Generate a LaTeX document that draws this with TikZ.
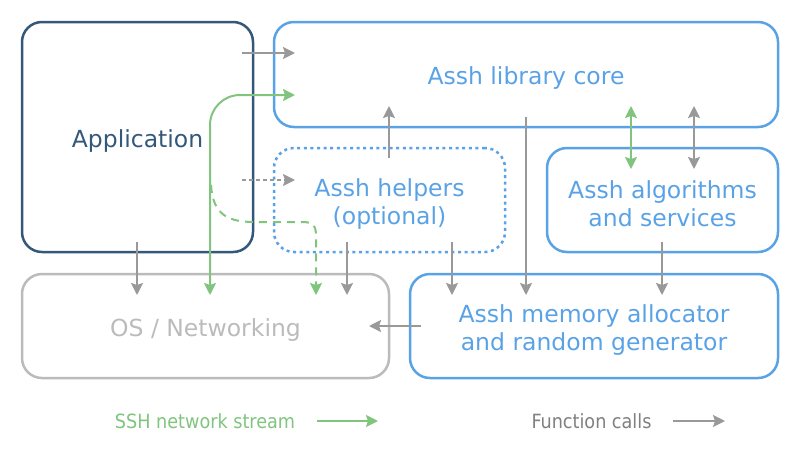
\documentclass[tikz,border=0pt]{standalone}
\usepackage{fontspec}
\setmainfont{DejaVu Sans}
\newfontfamily\condfont{DejaVu Sans Condensed}
\usetikzlibrary{arrows.meta}
\definecolor{appblue}{HTML}{34587A}
\definecolor{asshblue}{HTML}{5AA2E6}
\definecolor{osgray}{HTML}{BBBBBB}
\definecolor{callgray}{HTML}{999999}
\definecolor{legendgray}{HTML}{808080}
\definecolor{netgreen}{HTML}{80C47E}
\newcommand{\boxstrut}{\rule{0pt}{25.5pt}}

\begin{document}
\begin{tikzpicture}[x=1pt,y=-1pt]

\tikzset{box/.style = {shape=rectangle, draw, rounded corners=20pt, line width=2.5pt, inner sep=0pt, align=center, font=\fontsize{23.5}{28}\selectfont}}
\tikzset{call/.style = {draw=callgray, line width=2pt, -{Stealth[length=12pt, width=12pt, inset=2pt]}}}
\tikzset{net/.style = {draw=netgreen, line width=2pt, -{Stealth[length=12pt, width=12pt, inset=2pt]}}}
\tikzset{legend/.style = {font=\condfont\fontsize{19.6}{22}\selectfont}}
\useasboundingbox (0,0) rectangle (800,464);
%boxes
\node[box, draw=appblue, text=appblue, minimum width=231pt, minimum height=230pt] (app) at (137.5,137) {\boxstrut Application};
\node[box, draw=asshblue, text=asshblue, minimum width=504pt, minimum height=105pt] (core) at (526,74.5) {\boxstrut Assh library core};
\node[box, draw=asshblue, text=asshblue, dash pattern=on 3pt off 3.6pt, minimum width=231pt, minimum height=104pt] (helpers) at (389.5,200) {\boxstrut Assh helpers\\(optional)};
\node[box, draw=asshblue, text=asshblue, minimum width=231pt, minimum height=104pt] (algo) at (662.5,200) {\boxstrut Assh algorithms\\and services};
\node[box, draw=osgray, text=osgray, minimum width=367pt, minimum height=104pt] (os) at (205.5,326) {\boxstrut OS / Networking};
\node[box, draw=asshblue, text=asshblue, minimum width=368pt, minimum height=104pt] (mem) at (594,326) {\boxstrut Assh memory allocator\\and random generator};
%arrow ends
\coordinate (appcall) at (242,53);
\coordinate (corein) at (295,53);
\coordinate (apphelp) at (242,180);
\coordinate (helpin) at (295,180);
\coordinate (helpup) at (389,158);
\coordinate (coredown) at (389,106);
\coordinate (corecall) at (526,117);
\coordinate (memin) at (526,295);
\coordinate (netalgo) at (631,169);
\coordinate (netcore) at (631,106);
\coordinate (callalgo) at (694,169);
\coordinate (callcore) at (694,106);
\coordinate (appos) at (137,242);
\coordinate (osin) at (137,295);
\coordinate (helpos) at (347,242);
\coordinate (oshelp) at (347,295);
\coordinate (helpmem) at (452,242);
\coordinate (memhelp) at (452,295);
\coordinate (algomem) at (662,242);
\coordinate (memalgo) at (662,295);
\coordinate (memos) at (421,326);
\coordinate (osmem) at (369,326);
\coordinate (netos) at (210,295);
\coordinate (netbend) at (210,95);
\coordinate (netin) at (295,95);
\coordinate (netfork) at (211,185);
\coordinate (netdrop) at (316,295);
%calls
\draw[call] (appcall) -- (corein);
\draw[call, dash pattern=on 4pt off 3pt] (apphelp) -- (helpin);
\draw[call] (helpup) -- (coredown);
\draw[call] (corecall) -- (memin);
\draw[call, {Stealth[length=12pt, width=12pt, inset=2pt]}-{Stealth[length=12pt, width=12pt, inset=2pt]}] (callalgo) -- (callcore);
\draw[call] (appos) -- (osin);
\draw[call] (helpos) -- (oshelp);
\draw[call] (helpmem) -- (memhelp);
\draw[call] (algomem) -- (memalgo);
\draw[call] (memos) -- (osmem);
%network stream
\draw[net, {Stealth[length=12pt, width=12pt, inset=2pt]}-{Stealth[length=12pt, width=12pt, inset=2pt]}] (netalgo) -- (netcore);
\draw[net, {Stealth[length=12pt, width=12pt, inset=2pt]}-{Stealth[length=12pt, width=12pt, inset=2pt]}, rounded corners=30pt] (netos) -- (netbend) -- (netin);
\draw[net, dash pattern=on 8pt off 6pt] (netfork) .. controls (213,215) and (228,222) .. (255,222) -- (303,222) .. controls (316,222) and (316,229) .. (316,239) -- (netdrop);
%legend
\node[legend, text=netgreen] (netkey) at (205,421) {SSH network stream};
\node[legend, text=legendgray] (callkey) at (591.5,421) {Function calls};
\coordinate (netkeyend) at (378,421);
\coordinate (callkeyend) at (725,421);
\draw[net] ([xshift=18pt]netkey.east) -- (netkeyend);
\draw[call] ([xshift=18pt]callkey.east) -- (callkeyend);

\end{tikzpicture}
\end{document}
